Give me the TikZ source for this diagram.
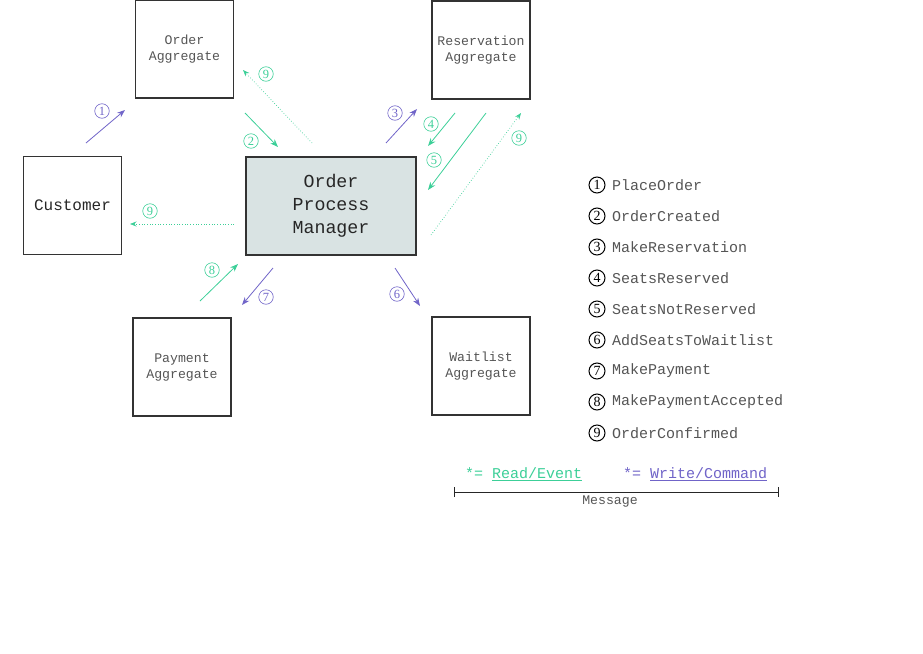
\documentclass[tikz,border=0pt]{standalone}
\usepackage{fontspec}
\setmainfont{Liberation Mono}
\newfontfamily\numfont{Liberation Serif}
\usepackage{tikz}
\usetikzlibrary{arrows.meta}

\definecolor{evgreen}{HTML}{3CCF98}
\definecolor{cmdpurple}{HTML}{7064C8}
\definecolor{pmfill}{HTML}{D9E3E3}
\definecolor{boxtext}{HTML}{555555}

\tikzset{
  aggbox/.style={draw=black!80, line width=1.2pt, minimum width=98pt, minimum height=98pt,
    align=center, font=\fontsize{13.2}{16}\selectfont, text=boxtext},
  evarrow/.style={evgreen, line width=0.8pt, -{Stealth[length=8pt,width=6pt]}},
  cmdarrow/.style={cmdpurple, line width=0.8pt, -{Stealth[length=8pt,width=6pt]}},
  confarrow/.style={evgreen, line width=0.7pt, dotted, -{Stealth[length=6.5pt,width=5pt]}},
  numlbl/.style={circle, draw, line width=0.6pt, minimum size=14.5pt, inner sep=0pt,
    font=\numfont\fontsize{12.5}{12.5}\selectfont},
  legnum/.style={circle, draw=black, line width=1pt, minimum size=16pt, inner sep=0pt,
    font=\numfont\fontsize{14}{14}\selectfont},
  legtxt/.style={font=\fontsize{15}{15}\selectfont, text=boxtext, anchor=west, inner sep=0pt}
}

\begin{document}
\begin{tikzpicture}[x=1pt,y=-1pt]
\useasboundingbox (0,0) rectangle (923,653);

\node[aggbox] (order) at (184.5,49) {Order\\Aggregate};
\node[aggbox] (resv) at (481,50) {Reservation\\Aggregate};
\node[aggbox, font=\fontsize{16}{18}\selectfont, text=black!85] (cust) at (72.5,205.5) {Customer};
\node[aggbox, fill=pmfill, minimum width=170pt, font=\fontsize{18.3}{23}\selectfont, text=black!85] (opm) at (331,206) {Order\\Process\\Manager};
\node[aggbox] (pay) at (182,367) {Payment\\Aggregate};
\node[aggbox] (wait) at (481,366) {Waitlist\\Aggregate};

\coordinate (c1a) at (86,143);  \coordinate (c1b) at (125,110);
\coordinate (c9a) at (312,143); \coordinate (c9b) at (243,70);
\coordinate (c2a) at (245,113); \coordinate (c2b) at (278,147);
\coordinate (c3a) at (386,143); \coordinate (c3b) at (417,109);
\coordinate (c4a) at (455,113); \coordinate (c4b) at (428,146);
\coordinate (c5a) at (486,113); \coordinate (c5b) at (428,190);
\coordinate (r9a) at (431,235); \coordinate (r9b) at (521,113);
\coordinate (u9a) at (234,224); \coordinate (u9b) at (130,224);
\coordinate (c8a) at (200,301); \coordinate (c8b) at (238,264);
\coordinate (c7a) at (273,268); \coordinate (c7b) at (242,305);
\coordinate (c6a) at (395,268); \coordinate (c6b) at (420,306);

\draw[cmdarrow] (c1a) -- (c1b);
\draw[confarrow] (c9a) -- (c9b);
\draw[evarrow] (c2a) -- (c2b);
\draw[cmdarrow] (c3a) -- (c3b);
\draw[evarrow] (c4a) -- (c4b);
\draw[evarrow] (c5a) -- (c5b);
\draw[confarrow] (r9a) -- (r9b);
\draw[confarrow] (u9a) -- (u9b);
\draw[evarrow] (c8a) -- (c8b);
\draw[cmdarrow] (c7a) -- (c7b);
\draw[cmdarrow] (c6a) -- (c6b);

\node[numlbl, cmdpurple] (l1) at (102,111) {1};
\node[numlbl, evgreen] (l9o) at (266,74) {9};
\node[numlbl, evgreen] (l2) at (251,141) {2};
\node[numlbl, cmdpurple] (l3) at (395,113) {3};
\node[numlbl, evgreen] (l4) at (431,124) {4};
\node[numlbl, evgreen] (l5) at (434,160) {5};
\node[numlbl, evgreen] (l9r) at (519,138) {9};
\node[numlbl, evgreen] (l9c) at (150,211) {9};
\node[numlbl, evgreen] (l8) at (212,270) {8};
\node[numlbl, cmdpurple] (l7) at (266,297) {7};
\node[numlbl, cmdpurple] (l6) at (397,294) {6};

\foreach \txt [count=\i] in {PlaceOrder, OrderCreated, MakeReservation,
  SeatsReserved, SeatsNotReserved, AddSeatsToWaitlist, MakePayment,
  MakePaymentAccepted, OrderConfirmed}
{
  \node[legnum] (n\i) at (597,154+31*\i) {\i};
  \node[legtxt] (t\i) at (612,154+31*\i) {\txt};
}

\node[legtxt, text=evgreen] (rd) at (465,474) {*= \underline{Read/Event}};
\node[legtxt, text=cmdpurple] (wr) at (623,474) {*= \underline{Write/Command}};

\coordinate (ml) at (454,492);
\coordinate (mr) at (779,492);
\draw[black!85, line width=0.8pt, {Bar[width=10pt]}-{Bar[width=10pt]}] (ml) -- (mr);
\node[font=\fontsize{13.2}{13}\selectfont, text=boxtext] (msg) at (610,502) {Message};
\end{tikzpicture}
\end{document}
